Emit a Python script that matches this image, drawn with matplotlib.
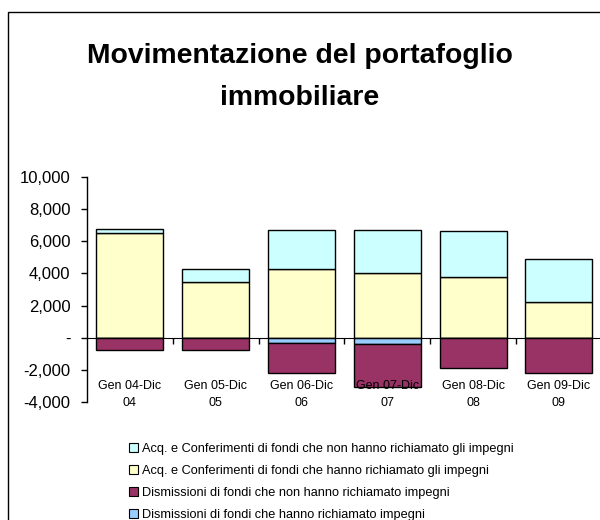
import matplotlib
matplotlib.use("Agg")
import matplotlib.pyplot as plt
from matplotlib.patches import Patch, Rectangle
from matplotlib.ticker import FuncFormatter, FixedLocator
import matplotlib.transforms as mtransforms
import numpy as np

plt.rcParams['font.family'] = ['Liberation Sans', 'DejaVu Sans']

categories = ["Gen 04-Dic\n04", "Gen 05-Dic\n05", "Gen 06-Dic\n06",
              "Gen 07-Dic\n07", "Gen 08-Dic\n08", "Gen 09-Dic\n09"]
acq_richiamato = [6500, 3480, 4290, 4000, 3790, 2190]
acq_non_richiamato = [300, 770, 2410, 2700, 2850, 2730]
dism_richiamato = [-30, 0, -310, -420, 0, 0]
dism_non_richiamato = [-740, -790, -1900, -2680, -1920, -2210]

labels = ["Acq. e Conferimenti di fondi che non hanno richiamato gli impegni",
          "Acq. e Conferimenti di fondi che hanno richiamato gli impegni",
          "Dismissioni di fondi che non hanno richiamato impegni",
          "Dismissioni di fondi che hanno richiamato impegni"]
colors = ["#CCFFFF", "#FFFFCC", "#993366", "#99CCFF"]

fig = plt.figure(figsize=(6, 5.2), dpi=100)
ax = fig.add_axes([87 / 600, 1 - 401.7 / 520, 513 / 600, 224.4 / 520])

x = np.arange(len(categories))
w = 0.78
kw = dict(width=w, edgecolor="black", linewidth=1, zorder=2)
ax.bar(x, acq_richiamato, color=colors[1], **kw)
ax.bar(x, acq_non_richiamato, bottom=acq_richiamato, color=colors[0], **kw)
ax.bar(x, dism_richiamato, color=colors[3], **kw)
ax.bar(x, dism_non_richiamato, bottom=dism_richiamato, color=colors[2], **kw)

ax.set_xlim(-0.5, -0.5 + 513 / 85.8)
ax.set_ylim(-4000, 10000)
ax.set_yticks(np.arange(-4000, 10001, 2000))
ax.yaxis.set_major_formatter(FuncFormatter(lambda v, p: "-" if v == 0 else f"{v:,.0f}"))
ax.tick_params(axis="y", direction="out", length=4, width=1, pad=8, labelsize=12)

for s in ["top", "right"]:
    ax.spines[s].set_visible(False)
ax.spines["bottom"].set_position(("data", 0))
ax.spines["bottom"].set_zorder(3)
ax.spines["left"].set_linewidth(1)
ax.xaxis.set_major_locator(FixedLocator(x[:-1] + 0.5))
ax.tick_params(axis="x", direction="out", length=4, width=1, labelbottom=False)

trans = mtransforms.blended_transform_factory(ax.transData, ax.transAxes)
for xi, lab in zip(x, categories):
    ax.text(xi, 0.095, lab, transform=trans, ha="center", va="top",
            fontsize=9, linespacing=1.5)

fig.text(0.5, 1 - 77 / 520, "Movimentazione del portafoglio\nimmobiliare",
         ha="center", va="center", fontsize=20.4, fontweight="bold", linespacing=1.78)

handles = [Patch(facecolor=c, edgecolor="black", linewidth=0.8) for c in colors]
fig.legend(handles, labels, loc="upper left", bbox_to_anchor=(124 / 600, 1 - 438 / 520),
           frameon=False, fontsize=9.2, handlelength=0.7, handleheight=0.7,
           handletextpad=0.3, labelspacing=0.78, borderaxespad=0)

fig.patches.append(Rectangle((8 / 600, -0.1), 1.0, 1.1 - 12 / 520, fill=False,
                             edgecolor="black", linewidth=1, transform=fig.transFigure))

fig.savefig("out.png", dpi=100)
